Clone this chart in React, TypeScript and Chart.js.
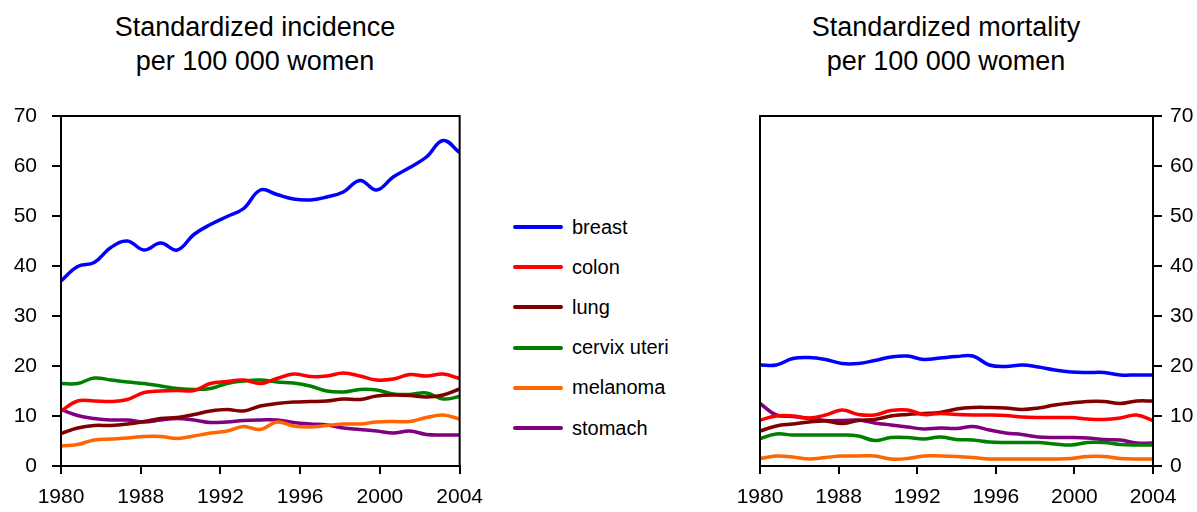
import React, { useEffect, useRef } from "react";
import { Chart, registerables } from "chart.js";

Chart.register(...registerables);

const FONT = "'Liberation Sans', Arial, Helvetica, sans-serif";

// categories (yearly points, evenly spaced along the axis)
const years = [
  1980, 1981, 1982, 1983, 1984, 1985, 1986, 1987, 1988, 1989, 1990, 1991, 1992,
  1993, 1994, 1995, 1996, 1997, 1998, 1999, 2000, 2001, 2002, 2003, 2004,
];
const xTickLabels = ["1980", "1988", "1992", "1996", "2000", "2004"];
const yTicks = [0, 10, 20, 30, 40, 50, 60, 70];

const seriesNames = ["breast", "colon", "lung", "cervix uteri", "melanoma", "stomach"];
const seriesColors = ["#0000FF", "#FF0000", "#800000", "#008000", "#FF6600", "#800080"];

// incidence per 100 000 women
const incBreast = [37, 39.9, 40.7, 43.7, 45.0, 43.2, 44.6, 43.2, 46.3, 48.3, 49.9, 51.5, 55.2, 54.3, 53.4, 53.2, 53.8, 54.8, 57.1, 55.2, 57.8, 59.7, 61.8, 65.1, 62.7];
const incColon = [11, 13, 13, 12.9, 13.3, 14.7, 15, 15.1, 15.1, 16.5, 16.9, 17.2, 16.5, 17.5, 18.4, 17.9, 18.0, 18.6, 18.0, 17.2, 17.4, 18.3, 18.0, 18.4, 17.5];
const incLung = [6.5, 7.6, 8.1, 8.1, 8.4, 8.9, 9.5, 9.7, 10.3, 11.0, 11.3, 11.0, 12.0, 12.5, 12.8, 12.9, 13.0, 13.4, 13.3, 14.0, 14.2, 14.1, 13.8, 14.2, 15.4];
const incCervix = [16.5, 16.5, 17.6, 17.2, 16.8, 16.5, 16.0, 15.5, 15.3, 15.5, 16.5, 17.0, 17.2, 16.8, 16.6, 16.0, 15.0, 14.8, 15.3, 15.2, 14.4, 14.3, 14.6, 13.4, 13.9];
const incMelanoma = [4.0, 4.3, 5.2, 5.4, 5.6, 5.9, 5.9, 5.5, 6.0, 6.6, 7.0, 7.9, 7.3, 8.8, 8.0, 7.8, 8.1, 8.4, 8.4, 8.8, 8.9, 8.9, 9.7, 10.2, 9.4];
const incStomach = [11.3, 10.1, 9.5, 9.2, 9.2, 8.8, 9.2, 9.5, 9.2, 8.7, 8.8, 9.1, 9.2, 9.2, 8.7, 8.4, 8.2, 7.6, 7.3, 7.0, 6.6, 7.0, 6.3, 6.2, 6.2];

// mortality per 100 000 women
const morBreast = [20.2, 20.2, 21.5, 21.7, 21.3, 20.5, 20.5, 21.1, 21.8, 22.0, 21.3, 21.6, 21.9, 22.0, 20.2, 19.9, 20.2, 19.8, 19.2, 18.8, 18.7, 18.7, 18.2, 18.2, 18.2];
const morColon = [9.2, 10.0, 10.0, 9.6, 10.2, 11.2, 10.3, 10.2, 11.1, 11.2, 10.3, 10.5, 10.3, 10.2, 10.2, 10.1, 9.8, 9.7, 9.7, 9.7, 9.4, 9.3, 9.6, 10.2, 9.1];
const morLung = [7.0, 8.0, 8.4, 8.8, 9.0, 8.5, 9.1, 9.3, 10.0, 10.3, 10.5, 10.7, 11.4, 11.7, 11.7, 11.6, 11.3, 11.6, 12.2, 12.6, 12.9, 12.9, 12.5, 13.0, 13.0];
const morCervix = [5.5, 6.4, 6.2, 6.2, 6.2, 6.2, 6.0, 5.1, 5.7, 5.7, 5.4, 5.8, 5.3, 5.2, 4.8, 4.7, 4.7, 4.7, 4.4, 4.2, 4.7, 4.7, 4.3, 4.2, 4.2];
const morMelanoma = [1.5, 2.0, 1.8, 1.4, 1.7, 2.0, 2.0, 2.0, 1.4, 1.5, 2.0, 2.0, 1.9, 1.7, 1.4, 1.4, 1.4, 1.4, 1.4, 1.5, 1.9, 1.9, 1.5, 1.4, 1.4];
const morStomach = [12.5, 10.2, 9.9, 9.5, 9.1, 9.1, 9.2, 8.6, 8.2, 7.8, 7.4, 7.6, 7.5, 7.9, 7.2, 6.6, 6.3, 5.8, 5.7, 5.7, 5.6, 5.3, 5.2, 4.6, 4.6];

const incidence = [incBreast, incColon, incLung, incCervix, incMelanoma, incStomach];
const mortality = [morBreast, morColon, morLung, morCervix, morMelanoma, morStomach];

const boxPlugin = {
  id: "boxBorder",
  afterDatasetsDraw(chart: any) {
    const { ctx, chartArea } = chart;
    ctx.save();
    ctx.strokeStyle = "#000";
    ctx.lineWidth = 2;
    ctx.strokeRect(chartArea.left, chartArea.top, chartArea.right - chartArea.left, chartArea.bottom - chartArea.top);
    ctx.restore();
  },
};

function makeConfig(values: number[][], side: "left" | "right"): any {
  const lastIdx = years.length - 1;
  const tickPositions = xTickLabels.map((_, i) => (i * lastIdx) / (xTickLabels.length - 1));
  return {
    type: "line",
    data: {
      datasets: values.map((arr, s) => ({
        label: seriesNames[s],
        data: arr.map((v, i) => ({ x: i, y: v })),
        borderColor: seriesColors[s],
        backgroundColor: seriesColors[s],
        borderWidth: 3.5,
        pointRadius: 0,
        tension: 0.4,
        fill: false,
      })),
    },
    options: {
      animation: false,
      responsive: false,
      maintainAspectRatio: false,
      layout: {
        padding: side === "left"
          ? { top: 116, right: 34, bottom: 0, left: 0 }
          : { top: 116, right: 0, bottom: 0, left: 60 },
      },
      plugins: { legend: { display: false }, title: { display: false }, tooltip: { enabled: false } },
      scales: {
        x: {
          type: "linear",
          min: 0,
          max: lastIdx,
          afterBuildTicks: (sc: any) => {
            sc.ticks = tickPositions.map((v) => ({ value: v }));
          },
          afterFit: (sc: any) => {
            sc.height = 46;
          },
          grid: { drawOnChartArea: false, drawTicks: true, tickLength: 8, color: "#000", lineWidth: 2 },
          border: { display: true, color: "#000", width: 2 },
          ticks: {
            autoSkip: false,
            maxRotation: 0,
            padding: 11,
            color: "#000",
            font: { family: FONT, size: 21 },
            callback: (_v: any, i: number) => xTickLabels[i],
          },
        },
        y: {
          position: side,
          min: 0,
          max: 70,
          afterBuildTicks: (sc: any) => {
            sc.ticks = yTicks.map((v) => ({ value: v }));
          },
          afterFit: (sc: any) => {
            sc.width = side === "left" ? 61 : 44;
          },
          grid: { drawOnChartArea: false, drawTicks: true, tickLength: 9, color: "#000", lineWidth: 2 },
          border: { display: true, color: "#000", width: 2 },
          ticks: {
            padding: side === "left" ? 15 : 8,
            color: "#000",
            font: { family: FONT, size: 21 },
            callback: (v: any) => String(v),
          },
        },
      },
    },
    plugins: [boxPlugin],
  };
}

function ChartCanvas({ values, side, left, width }: { values: number[][]; side: "left" | "right"; left: number; width: number }) {
  const ref = useRef<HTMLCanvasElement | null>(null);
  useEffect(() => {
    if (!ref.current) return;
    const chart = new Chart(ref.current, makeConfig(values, side));
    return () => chart.destroy();
  }, [values, side]);
  return (
    <canvas
      ref={ref}
      width={width}
      height={512}
      style={{ position: "absolute", left, top: 0, width, height: 512 }}
    />
  );
}

const titleStyle: React.CSSProperties = {
  position: "absolute",
  top: 10,
  width: 400,
  textAlign: "center",
  fontFamily: FONT,
  fontSize: 27,
  lineHeight: "34px",
  color: "#000",
};

export default function App() {
  return (
    <div style={{ position: "fixed", left: 0, top: 0, width: 1197, height: 512, background: "#fff", overflow: "hidden" }}>
      <div style={{ ...titleStyle, left: 55 }}>
        Standardized incidence
        <br />
        per 100 000 women
      </div>
      <div style={{ ...titleStyle, left: 746 }}>
        Standardized mortality
        <br />
        per 100 000 women
      </div>
      <ChartCanvas values={incidence} side="left" left={0} width={494} />
      <ChartCanvas values={mortality} side="right" left={700} width={497} />
      {seriesNames.map((name, i) => (
        <div
          key={name}
          style={{
            position: "absolute",
            left: 513,
            top: 227 + i * 40.2 - 12,
            height: 24,
            display: "flex",
            alignItems: "center",
            fontFamily: FONT,
            fontSize: 20,
            color: "#000",
            whiteSpace: "nowrap",
          }}
        >
          <div style={{ width: 50, height: 4, background: seriesColors[i], marginRight: 9, borderRadius: 2 }} />
          <span>{name}</span>
        </div>
      ))}
    </div>
  );
}
